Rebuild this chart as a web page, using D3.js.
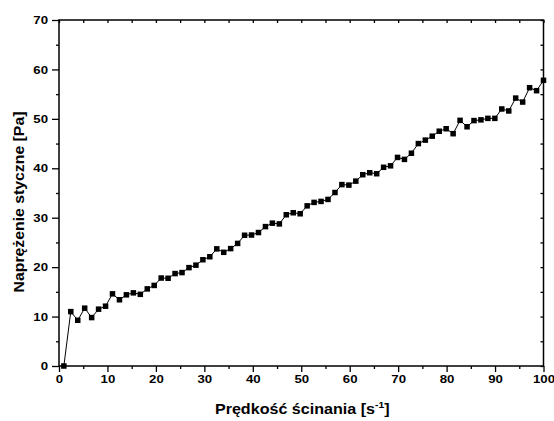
<!DOCTYPE html>
<html><head><meta charset="utf-8">
<script src="https://cdn.jsdelivr.net/npm/d3@7"></script>
<style>
body{margin:0;background:#fff}
text{font-family:"Liberation Sans",Arial,sans-serif;font-weight:bold;fill:#000}
</style>
</head><body>
<svg id="c" width="554" height="421"></svg>
<script>
// Shear rate [1/s]
const shearRate = [1, 2.43, 3.87, 5.3, 6.74, 8.17, 9.61, 11.04, 12.48, 13.91,
  15.35, 16.78, 18.22, 19.65, 21.09, 22.52, 23.96, 25.39, 26.83, 28.26,
  29.7, 31.13, 32.57, 34, 35.43, 36.87, 38.3, 39.74, 41.17, 42.61,
  44.04, 45.48, 46.91, 48.35, 49.78, 51.22, 52.65, 54.09, 55.52, 56.96,
  58.39, 59.83, 61.26, 62.7, 64.13, 65.57, 67, 68.43, 69.87, 71.3,
  72.74, 74.17, 75.61, 77.04, 78.48, 79.91, 81.35, 82.78, 84.22, 85.65,
  87.09, 88.52, 89.96, 91.39, 92.83, 94.26, 95.7, 97.13, 98.57, 100];
// Shear stress [Pa]
const shearStress = [0, 11.0, 9.25, 11.7, 9.8, 11.5, 12.1, 14.6, 13.4, 14.4,
  14.8, 14.5, 15.6, 16.3, 17.8, 17.75, 18.7, 18.9, 19.9, 20.4,
  21.5, 22.1, 23.7, 23.0, 23.75, 24.8, 26.45, 26.5, 27.0, 28.2,
  28.9, 28.75, 30.6, 31.0, 30.8, 32.4, 33.1, 33.3, 33.7, 35.1,
  36.7, 36.6, 37.4, 38.7, 39.1, 38.9, 40.2, 40.5, 42.2, 41.8,
  43.05, 45.0, 45.7, 46.5, 47.5, 48.0, 47.0, 49.7, 48.4, 49.65,
  49.8, 50.1, 50.1, 52.0, 51.6, 54.2, 53.4, 56.3, 55.7, 57.8];
const xTicks = [0, 10, 20, 30, 40, 50, 60, 70, 80, 90, 100];
const xMinorTicks = [5, 15, 25, 35, 45, 55, 65, 75, 85, 95];
const yTicks = [0, 10, 20, 30, 40, 50, 60, 70];
const yMinorTicks = [5, 15, 25, 35, 45, 55, 65];
const xTitle = "Prędkość ścinania [s";
const xTitleSup = "-1";
const yTitle = "Naprężenie styczne [Pa]";

const svg = d3.select("#c");
const L = 59, R = 543.5, T = 20, B = 366;
const SX = 1.15; // horizontal stretch of the reference lettering
const x = d3.scaleLinear().domain([0, 100]).range([L, R]);
const y = d3.scaleLinear().domain([0, 70]).range([B, T]);

function styleAxis(g) {
  g.select(".domain").remove();
  g.selectAll("line").attr("stroke", "#000").attr("stroke-width", 1.3);
  g.selectAll("text").style("font-size", "11.5px")
    .style("font-family", '"Liberation Sans",Arial,sans-serif').style("font-weight", "bold");
}

// bottom
svg.append("g").attr("transform", `translate(0,${B})`)
  .call(d3.axisBottom(x).tickValues(xTicks).tickSize(6).tickPadding(3).tickFormat(d3.format("d")))
  .call(styleAxis)
  .call(g => g.selectAll("text").attr("transform", `scale(${SX},1)`));
svg.append("g").attr("transform", `translate(0,${B})`)
  .call(d3.axisBottom(x).tickValues(xMinorTicks).tickSize(3).tickFormat(""))
  .call(styleAxis);
// left
svg.append("g").attr("transform", `translate(${L},0)`)
  .call(d3.axisLeft(y).tickValues(yTicks).tickSize(7).tickPadding(4).tickFormat(d3.format("d")))
  .call(styleAxis)
  .call(g => g.selectAll("text").attr("x", -11 / SX).attr("transform", `scale(${SX},1)`));
svg.append("g").attr("transform", `translate(${L},0)`)
  .call(d3.axisLeft(y).tickValues(yMinorTicks).tickSize(3).tickFormat(""))
  .call(styleAxis);
// top (inward)
svg.append("g").attr("transform", `translate(0,${T})`)
  .call(d3.axisTop(x).tickValues(xTicks.concat(xMinorTicks)).tickSize(-3).tickFormat(""))
  .call(styleAxis);
// right (inward)
svg.append("g").attr("transform", `translate(${R},0)`)
  .call(d3.axisRight(y).tickValues(yTicks.concat(yMinorTicks)).tickSize(-3).tickFormat(""))
  .call(styleAxis);

// frame
svg.append("rect").attr("x", L).attr("y", T).attr("width", R - L).attr("height", B - T)
  .attr("fill", "none").attr("stroke", "#000").attr("stroke-width", 1.5);

const data = shearRate.map((d, i) => ({x: d, y: shearStress[i]}));
svg.append("path").datum(data)
  .attr("fill", "none").attr("stroke", "#000").attr("stroke-width", 1)
  .attr("d", d3.line().x(d => x(d.x)).y(d => y(d.y)));
const s = 5.5;
svg.append("g").selectAll("rect").data(data).join("rect")
  .attr("x", d => x(d.x) - s / 2).attr("y", d => y(d.y) - s / 2)
  .attr("width", s).attr("height", s).attr("fill", "#000");

// titles
const xt = svg.append("g").attr("transform", `translate(${(L + R) / 2 + 1},414) scale(${SX},1)`)
  .append("text").attr("text-anchor", "middle").style("font-size", "14px");
xt.append("tspan").text(xTitle);
xt.append("tspan").attr("dy", -6).style("font-size", "9px").text(xTitleSup);
xt.append("tspan").attr("dy", 6).text("]");

svg.append("g").attr("transform", `translate(24,${(T + B) / 2 + 9}) rotate(-90) scale(1.13,1)`)
  .append("text").attr("text-anchor", "middle").style("font-size", "14px").text(yTitle);
</script>
</body></html>
